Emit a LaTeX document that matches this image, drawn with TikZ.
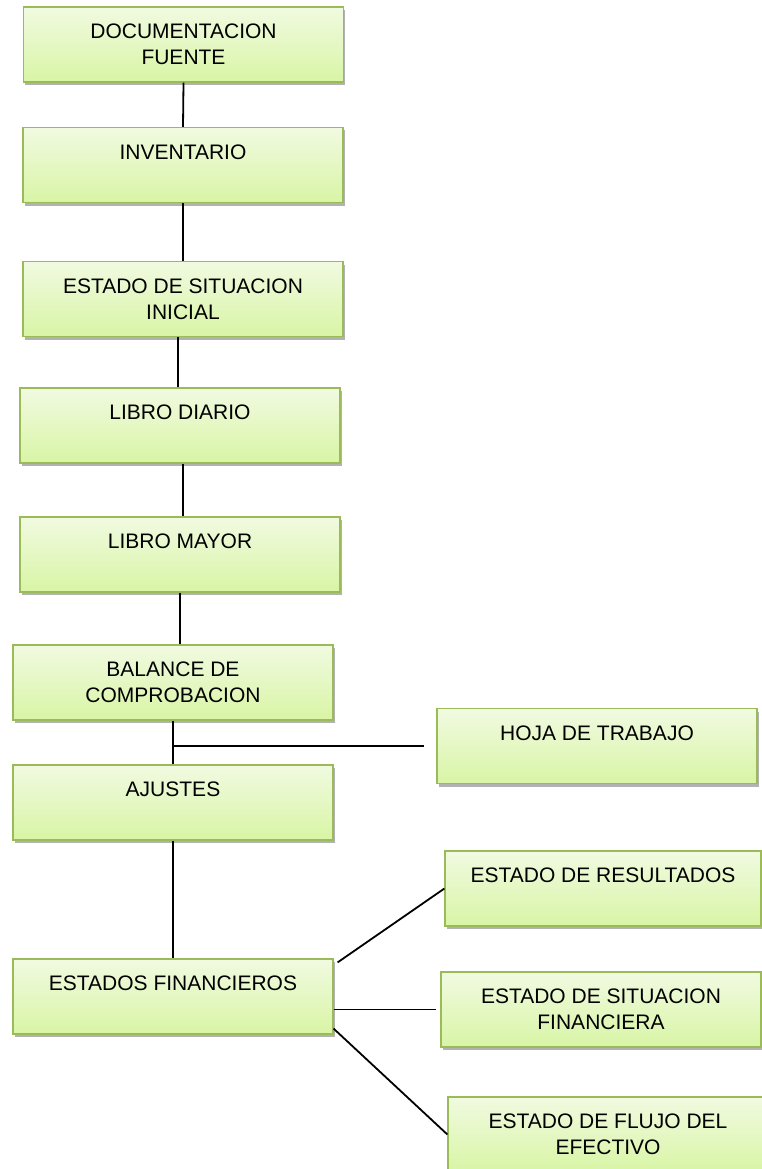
\documentclass[tikz,border=0pt]{standalone}
\usepackage{fontspec}
\setmainfont{Liberation Sans}
\usetikzlibrary{positioning,shadows}

\definecolor{bordeverde}{RGB}{155,187,89}
\definecolor{verdearriba}{RGB}{241,250,225}
\definecolor{verdeabajo}{RGB}{216,245,165}

\begin{document}
\begin{tikzpicture}[x=1pt,y=-1pt,
    paso/.style={draw=bordeverde, line width=1.2pt,
      top color=verdearriba, bottom color=verdeabajo,
      minimum width=320pt, minimum height=75pt, inner sep=0pt,
      align=center, font=\fontsize{21}{26}\selectfont,
      drop shadow={shadow xshift=1.5pt, shadow yshift=-3pt, opacity=.3, fill=black}},
    enlace/.style={draw=black, line width=1.8pt}]
  \useasboundingbox (0,0) rectangle (762,1169);

  % columna principal
  \node[paso] (doc) at (183.5,44.5) {DOCUMENTACION\\FUENTE};
  \node[paso] (inv) at (183,165) {INVENTARIO\\\mbox{}};
  \node[paso] (inicial) at (183,299) {ESTADO DE SITUACION\\INICIAL};
  \node[paso] (diario) at (180,425.5) {LIBRO DIARIO\\\mbox{}};
  \node[paso] (mayor) at (180,554.5) {LIBRO MAYOR\\\mbox{}};
  \node[paso] (balance) at (173,682.5) {BALANCE DE\\COMPROBACION};
  \node[paso] (ajustes) at (173,802.5) {AJUSTES\\\mbox{}};
  \node[paso] (ef) at (173,996.5) {ESTADOS FINANCIEROS\\\mbox{}};

  % ramas
  \node[paso] (hoja) at (597,746) {HOJA DE TRABAJO\\\mbox{}};
  \node[paso, minimum width=316pt] (resultados) at (603,888.5) {ESTADO DE RESULTADOS\\\mbox{}};
  \node[paso] (sf) at (601,1009.5) {ESTADO DE SITUACION\\FINANCIERA};
  \node[paso] (flujo) at (608,1134.5) {ESTADO DE FLUJO DEL\\EFECTIVO};

  \draw[enlace] (doc.south) -- (inv.north);
  \draw[enlace] (inv.south) -- (inicial.north);
  \draw[enlace] ([xshift=-5pt]inicial.south) -- ([xshift=-2pt]diario.north);
  \draw[enlace] ([xshift=3pt]diario.south) -- ([xshift=3pt]mayor.north);
  \draw[enlace] (mayor.south) -- (mayor.south |- balance.north);
  \draw[enlace] (balance.south) -- (ajustes.north);
  \draw[enlace] (balance.south |- hoja.west) -- ([xshift=-12pt]hoja.west);
  \draw[enlace] (ajustes.south) -- (ef.north);
  \draw[enlace] ([shift={(4pt,-4pt)}]ef.north east) -- (resultados.west);
  \draw[enlace] (ef.east |- sf.west) -- ([xshift=-4pt]sf.west);
  \draw[enlace] ([yshift=6pt]ef.south east) -- (flujo.west);
\end{tikzpicture}
\end{document}
